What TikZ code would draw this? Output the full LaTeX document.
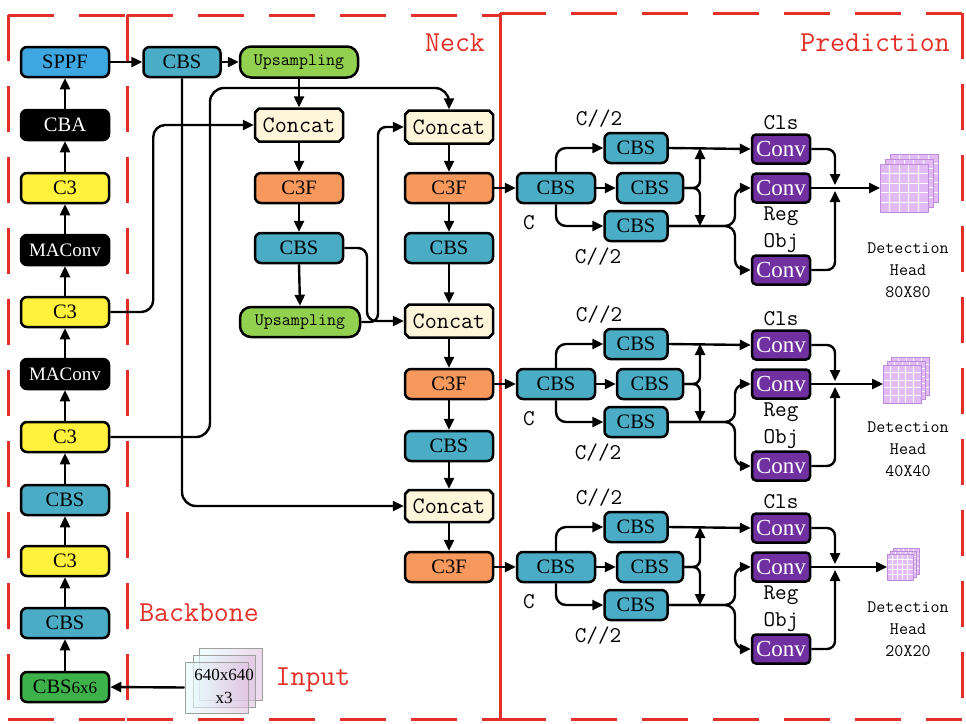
\documentclass[tikz,border=0pt]{standalone}
\usepackage{fontspec}
\setmainfont{Liberation Serif}
\usetikzlibrary{arrows.meta,shapes.misc}
\definecolor{colCBS}{RGB}{75,172,198}
\definecolor{colSPPF}{RGB}{62,166,224}
\definecolor{colCthree}{RGB}{255,241,60}
\definecolor{colGreen}{RGB}{62,178,74}
\definecolor{colUp}{RGB}{146,208,80}
\definecolor{colCat}{RGB}{255,245,218}
\definecolor{colCF}{RGB}{247,152,92}
\definecolor{colConv}{RGB}{112,48,160}
\definecolor{colRed}{RGB}{226,48,40}
\definecolor{colGrid}{RGB}{226,186,244}
\definecolor{colGridB}{RGB}{190,140,220}
\newcommand{\gridcube}[4]{%
  \foreach \k in {2,1,0}{%
    \pgfmathsetmacro{\gx}{#1+\k*#4}%
    \pgfmathsetmacro{\gy}{#2-#3/2-\k*#4}%
    \fill[colGrid] (\gx,\gy) rectangle ++(#3,#3);
    \foreach \m in {1,...,4}{%
      \draw[white, line width=0.8pt] (\gx+\m*#3/5,\gy) -- ++(0,#3);
      \draw[white, line width=0.8pt] (\gx,\gy+\m*#3/5) -- ++(#3,0);
    }
    \draw[colGridB, line width=0.6pt] (\gx,\gy) rectangle ++(#3,#3);
  }}
\begin{document}
\begin{tikzpicture}[x=1pt,y=-1pt,
  conn/.style={line width=2.4pt, -{Triangle[length=11pt,width=10pt]}},
  box/.style={draw=black, line width=2.5pt, rounded corners=6pt, minimum width=88pt,
    minimum height=30pt, inner sep=0pt, font=\fontsize{20.5}{22}\selectfont},
  cbs/.style={box, fill=colCBS},
  sppf/.style={box, fill=colSPPF},
  cthree/.style={box, fill=colCthree},
  blackbox/.style={box, fill=black, text=white},
  greenbox/.style={box, fill=colGreen},
  upbox/.style={box, fill=colUp, rounded corners=11pt, minimum width=118pt, minimum height=31pt, font=\ttfamily\fontsize{17.5}{18}\selectfont},
  catbox/.style={box, fill=colCat, sharp corners, chamfered rectangle, chamfered rectangle sep=2pt, minimum height=33pt, font=\ttfamily\fontsize{23.5}{24}\selectfont},
  cfbox/.style={box, fill=colCF},
  conv/.style={box, fill=colConv, text=white, rounded corners=4pt, minimum width=58pt, minimum height=29pt, font=\fontsize{23}{24}\selectfont},
  lbl/.style={font=\ttfamily\fontsize{22.5}{23}\selectfont, inner sep=0pt},
  dt/.style={font=\ttfamily\fontsize{17.5}{18}\selectfont, inner sep=0pt},
  redlbl/.style={text=colRed, font=\ttfamily\fontsize{29}{30}\selectfont, inner sep=0pt},
  frame/.style={draw=colRed, line width=3pt, dash pattern=on 46pt off 25pt},
  inpsq/.style={draw=gray!75, line width=1pt, left color=cyan!10, right color=violet!25, fill opacity=0.6}
]
\useasboundingbox (0,0) rectangle (966,723);
% frames
\draw[frame] (8,15) -- (8,719);
\draw[frame] (8,15) -- (127,15);
\draw[frame] (8,719) -- (127,719);
\draw[frame] (127,15) -- (127,719);
\draw[frame] (127,15) -- (500,15);
\draw[frame] (127,719) -- (500,719);
\draw[draw=colRed, line width=3pt] (500,13) -- (500,719);
\draw[frame] (500,13) -- (962,13);
\draw[frame] (962,13) -- (962,719);
\draw[frame] (500,719) -- (962,719);
\node[redlbl] (lneck) at (455,43) {Neck};
\node[redlbl] (lpred) at (875,43) {Prediction};
\node[redlbl] (lback) at (199,613) {Backbone};
\node[redlbl] (linp) at (313,680) {Input};

% backbone
\node[sppf] (sppf) at (65,62) {SPPF};
\node[blackbox] (cba) at (65,125) {CBA};
\node[cthree] (c3a) at (65,188) {C3};
\node[blackbox, font=\fontsize{19}{20}\selectfont] (mac1) at (65,250) {MAConv};
\node[cthree] (c3b) at (65,312) {C3};
\node[blackbox, font=\fontsize{19}{20}\selectfont] (mac2) at (65,374) {MAConv};
\node[cthree] (c3c) at (65,437) {C3};
\node[cbs] (cbs2) at (65,500) {CBS};
\node[cthree] (c3d) at (65,561) {C3};
\node[cbs] (cbs1) at (65,623) {CBS};
\node[greenbox] (cbs0) at (65,687) {CBS\fontsize{17}{17}\selectfont 6x6};
\foreach \a/\b in {cbs0/cbs1, cbs1/c3d, c3d/cbs2, cbs2/c3c, c3c/mac2, mac2/c3b, c3b/mac1, mac1/c3a, c3a/cba, cba/sppf}
  \draw[conn] (\a.north) -- (\b.south);

% input
\path[inpsq] (199,648) rectangle (262,700);
\path[inpsq] (193,655) rectangle (255,707);
\node[inpsq, minimum width=63pt, minimum height=51pt, inner sep=0pt] (inp) at (216.5,687.5) {};
\node[font=\fontsize{17}{17}\selectfont, inner sep=0pt] (inptxt1) at (224,675) {640x640};
\node[font=\fontsize{17}{17}\selectfont, inner sep=0pt] (inptxt2) at (224,698) {x3};
\draw[conn] (inp.west) -- (cbs0.east);

% neck
\node[cbs, minimum width=77pt] (cbsn1) at (182,62) {CBS};
\node[upbox] (up1) at (299,62) {Upsampling};
\node[catbox] (cat1) at (299,125) {Concat};
\node[cfbox] (c3f1) at (299,188) {C3F};
\node[cbs] (cbsn2) at (299,248) {CBS};
\node[upbox, minimum width=120pt, minimum height=30pt] (up2) at (300,322) {Upsampling};
\node[catbox] (cat2) at (449,127) {Concat};
\node[cfbox] (c3f2) at (449,188) {C3F};
\node[cbs] (cbsn3) at (449,248) {CBS};
\node[catbox] (cat3) at (449,321) {Concat};
\node[cfbox] (c3f3) at (449,384) {C3F};
\node[cbs] (cbsn4) at (449,446) {CBS};
\node[catbox, minimum height=32pt] (cat4) at (449,506) {Concat};
\node[cfbox] (c3f4) at (449,567) {C3F};

\draw[conn] (sppf.east) -- (cbsn1.west);
\draw[conn] (cbsn1.east) -- (up1.west);
\foreach \a/\b in {up1/cat1, cat1/c3f1, c3f1/cbsn2, cbsn2/up2, cat2/c3f2, c3f2/cbsn3, cbsn3/cat3, cat3/c3f3, c3f3/cbsn4, cbsn4/cat4, cat4/c3f4}
  \draw[conn] (\a.south) -- (\b.north);
\draw[conn, rounded corners=12pt] (c3b.east) -- ++(43,0) |- (cat1.west);
\draw[conn, rounded corners=14pt] (c3c.east) -| (210,88) -| (cat2.north);
\draw[conn, rounded corners=14pt] (cbsn1.south) |- (cat4.west);
\draw[conn, rounded corners=8pt] (up2.east) -| (378,200) |- (cat2.west);
\draw[conn, rounded corners=9pt] (cbsn2.east) -| (367,280) |- (cat3.west);

% heads
\foreach \i/\Y/\src/\s/\d/\ix/\ty/\res in {1/188/c3f2/48/5/880/248/80X80, 2/384/c3f3/38/4/883/427/40X40, 3/567/c3f4/26/3/887/607/20X20}{
  \node[cbs, minimum width=78pt] (hm\i) at (556,\Y) {CBS};
  \node[cbs, minimum width=63pt] (ht\i) at (636,\Y-40) {CBS};
  \node[cbs, minimum width=66pt] (hc\i) at (650,\Y) {CBS};
  \node[cbs, minimum width=63pt] (hb\i) at (636,\Y+38) {CBS};
  \node[lbl] (lta\i) at (599,\Y-69) {C//2};
  \node[lbl] (ltc\i) at (529,\Y+35) {C};
  \node[lbl] (ltb\i) at (598,\Y+69) {C//2};
  \node[conv] (hcls\i) at (781,\Y-39) {Conv};
  \node[conv] (hreg\i) at (781,\Y) {Conv};
  \node[conv] (hobj\i) at (781,\Y+82) {Conv};
  \node[lbl] (lcls\i) at (781,\Y-65) {Cls};
  \node[lbl] (lreg\i) at (781,\Y+28) {Reg};
  \node[lbl] (lobj\i) at (781,\Y+55) {Obj};
  \draw[conn] (\src.east) -- (hm\i.west);
  \draw[conn, rounded corners=10pt] (hm\i.north) |- (ht\i.west);
  \draw[conn, rounded corners=10pt] (hm\i.south) |- (hb\i.west);
  \draw[conn] (hm\i.east) -- (hc\i.west);
  \draw[conn] (ht\i.east) -- (hcls\i.west);
  \draw[conn, rounded corners=7pt] (hc\i.east) -| (700,\Y-40);
  \draw[conn, rounded corners=7pt] (hc\i.east) -| (700,\Y+38);
  \draw[conn, rounded corners=10pt] (hb\i.east) -- (735,\Y+38) |- (hreg\i.west);
  \draw[conn, rounded corners=10pt] (hb\i.east) -- (735,\Y+38) |- (hobj\i.west);
  \draw[conn, rounded corners=8pt] (hcls\i.east) -| (835,\Y-3);
  \draw[conn, rounded corners=8pt] (hobj\i.east) -| (835,\Y+3);
  \coordinate (ico\i) at (\ix,\Y);
  \draw[conn] (hreg\i.east) -- (ico\i);
  \gridcube{\ix}{\Y}{\s}{\d}
  \node[dt] (dta\i) at (908,\ty) {Detection};
  \node[dt] (dtb\i) at (908,\ty+22) {Head};
  \node[dt] (dtc\i) at (908,\ty+44) {\res};
}
\end{tikzpicture}
\end{document}
